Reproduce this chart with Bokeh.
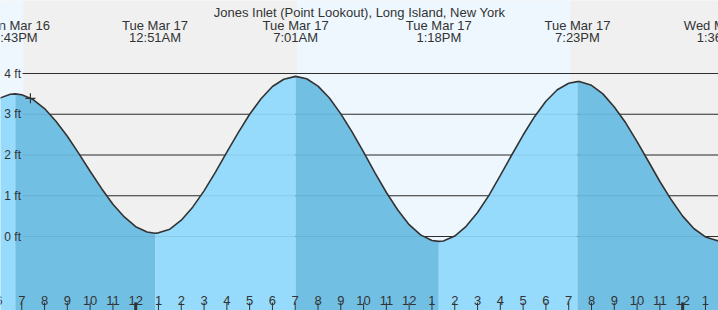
from bokeh.plotting import figure
from bokeh.models import Label, Range1d
from bokeh.embed import file_html
from bokeh.resources import INLINE
from bokeh.core.properties import value

# ---------------- data (hours relative to Tue Mar 17 00:00) ----------------
title_text = "Jones Inlet (Point Lookout), Long Island, New York"

extreme_hours = [-5.283, 0.85, 7.017, 13.3, 19.383, 25.6]
extreme_feet = [3.50, 0.08, 3.93, -0.12, 3.80, -0.10]
extreme_kind = ["high", "low", "high", "low", "high", "low"]
extreme_day = ["Mon Mar 16", "Tue Mar 17", "Tue Mar 17", "Tue Mar 17", "Tue Mar 17", "Wed Mar 18"]
extreme_time = ["6:43PM", "12:51AM", "7:01AM", "1:18PM", "7:23PM", "1:36AM"]

curve_hours = [-6.0, -5.5, -5.283, -5.0, -4.5, -4.0, -3.5, -3.0, -2.5, -2.0, -1.5, -1.0,
               -0.5, 0.0, 0.5, 0.85, 1.0, 1.5, 2.0, 2.5, 3.0, 3.5, 4.0, 4.5, 5.0, 5.5,
               6.0, 6.5, 7.017, 7.5, 8.0, 8.5, 9.0, 9.5, 10.0, 10.5, 11.0, 11.5, 12.0,
               12.5, 13.0, 13.3, 13.5, 14.0, 14.5, 15.0, 15.5, 16.0, 16.5, 17.0, 17.5,
               18.0, 18.5, 19.0, 19.383, 19.5, 20.0, 20.5, 21.0, 21.5, 22.0, 22.5, 23.0,
               23.5, 24.0, 24.5, 25.0, 25.5, 25.6]
curve_feet = [3.39, 3.49, 3.50, 3.48, 3.36, 3.14, 2.83, 2.46, 2.04, 1.60, 1.18, 0.79,
              0.48, 0.24, 0.11, 0.08, 0.09, 0.18, 0.40, 0.72, 1.12, 1.58, 2.07, 2.55,
              3.00, 3.38, 3.68, 3.86, 3.93, 3.87, 3.69, 3.40, 3.01, 2.56, 2.07, 1.56,
              1.08, 0.65, 0.29, 0.04, -0.10, -0.12, -0.11, 0.01, 0.25, 0.59, 1.01, 1.50,
              2.00, 2.49, 2.94, 3.32, 3.60, 3.76, 3.80, 3.80, 3.71, 3.50, 3.18, 2.79,
              2.33, 1.84, 1.35, 0.90, 0.50, 0.19, -0.01, -0.10, -0.10]

day_start = [-6.5, 7.07]
day_end = [-4.92, 19.08]
night_start = [-4.92, 19.08]
night_end = [7.07, 26.5]

grid_feet = [0, 1, 2, 3, 4]
grid_labels = ["0 ft", "1 ft", "2 ft", "3 ft", "4 ft"]

hour_ticks = [-6, -5, -4, -3, -2, -1, 0, 1, 2, 3, 4, 5, 6, 7, 8, 9, 10, 11, 12,
              13, 14, 15, 16, 17, 18, 19, 20, 21, 22, 23, 24, 25]
hour_labels = ["6", "7", "8", "9", "10", "11", "12", "1", "2", "3", "4", "5", "6",
               "7", "8", "9", "10", "11", "12", "1", "2", "3", "4", "5", "6", "7",
               "8", "9", "10", "11", "12", "1"]
midnight_hours = [0, 24]

now_hours = [-4.62]
now_feet = [3.39]

# ---------------- layout constants ----------------
W, H = 718, 310
PX_PER_H = 22.79
MIDNIGHT_PX = 135.2
PX_PER_FT = 40.75
ZERO_PX = 236.0
X0 = -MIDNIGHT_PX / PX_PER_H
X1 = (W - MIDNIGHT_PX) / PX_PER_H
Y1 = ZERO_PX / PX_PER_FT
Y0 = (ZERO_PX - H) / PX_PER_FT


def fy(px):
    return (ZERO_PX - px) / PX_PER_FT


def fx(px):
    return X0 + px / PX_PER_H


DAY = "#eef7fe"
NIGHT = "#f0f0f0"
WATER_RISE = "#97dbfc"
WATER_FALL = "#72bfe4"
INK = "#333333"
FONT = "Liberation Sans"

p = figure(width=W, height=H, x_range=Range1d(X0, X1), y_range=Range1d(Y0, Y1),
           output_backend="svg", toolbar_location=None, min_border=0)
p.axis.visible = False
p.grid.visible = False
p.outline_line_color = None
p.background_fill_color = NIGHT
p.border_fill_color = NIGHT

# day / night background
p.quad(left=day_start, right=day_end, bottom=Y0, top=Y1, fill_color=DAY, line_color=None)
p.quad(left=night_start, right=night_end, bottom=Y0, top=Y1, fill_color=NIGHT, line_color=None)

# grid lines (dark, over the sky)
gx0 = fx(22)
p.segment(x0=[gx0] * len(grid_feet), y0=grid_feet, x1=[X1 + 1] * len(grid_feet), y1=grid_feet,
          line_color=INK, line_width=1)

# water fill, split at each high / low
bounds = [curve_hours[0]] + extreme_hours
for i in range(len(extreme_hours)):
    a, b = bounds[i], bounds[i + 1]
    xs = [h for h in curve_hours if a <= h <= b]
    ys = [f for h, f in zip(curve_hours, curve_feet) if a <= h <= b]
    col = WATER_FALL if extreme_kind[i] == "low" else WATER_RISE
    p.varea(x=xs, y1=ys, y2=[Y0 - 1] * len(xs), fill_color=col)

# faint grid lines seen through water
p.segment(x0=[gx0] * len(grid_feet), y0=grid_feet, x1=[X1 + 1] * len(grid_feet), y1=grid_feet,
          line_color="#000000", line_alpha=0.08, line_width=1)

# tide curve
p.line(curve_hours, curve_feet, line_color=INK, line_width=1.6)

# current time marker
p.scatter(now_hours, now_feet, marker="cross", size=10, line_color=INK, line_width=1.2)

# y labels
p.text(x=[fx(20.5)] * len(grid_feet), y=grid_feet, text=grid_labels, text_align="right",
       text_baseline="middle", text_font=value(FONT), text_font_size="12px", text_color=INK)

# hour labels and ticks
p.text(x=hour_ticks, y=[fy(300)] * len(hour_ticks), text=hour_labels, text_align="center",
       text_baseline="alphabetic", text_font=value(FONT), text_font_size="13px", text_color=INK)
p.segment(x0=hour_ticks, y0=[fy(302)] * len(hour_ticks), x1=hour_ticks, y1=[Y0 - 1] * len(hour_ticks),
          line_color=INK, line_width=1)
p.segment(x0=midnight_hours, y0=[fy(302)] * 2, x1=midnight_hours, y1=[Y0 - 1] * 2,
          line_color=INK, line_width=3)

# high / low labels
p.text(x=extreme_hours, y=[fy(24.5)] * len(extreme_hours), text=extreme_day, text_align="center",
       text_baseline="alphabetic", text_font=value(FONT), text_font_size="13px", text_color=INK)
p.text(x=extreme_hours, y=[fy(37)] * len(extreme_hours), text=extreme_time, text_align="center",
       text_baseline="alphabetic", text_font=value(FONT), text_font_size="13px", text_color=INK)

# title
p.add_layout(Label(x=359, y=H - 12, x_units="screen", y_units="screen", text=title_text,
                   text_align="center", text_baseline="alphabetic", text_font=FONT,
                   text_font_size="13px", text_color=INK))

open("out.html", "w").write(file_html(p, INLINE))
